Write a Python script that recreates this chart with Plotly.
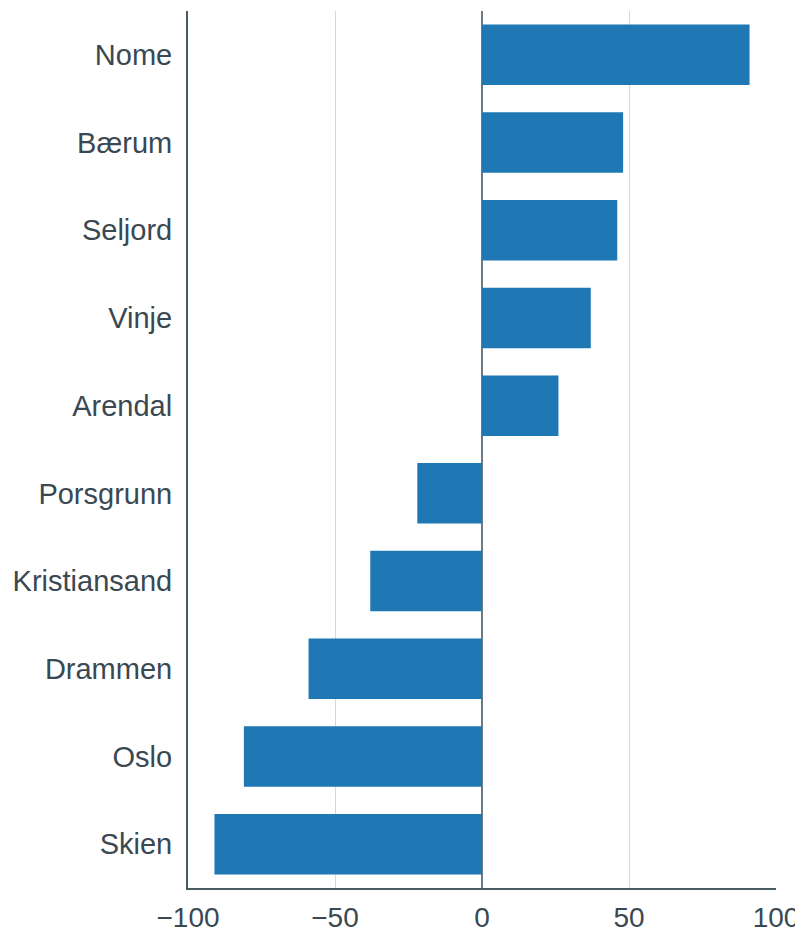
import plotly.graph_objects as go

# kommuner, from top to bottom as drawn
kommuner = ["Nome", "Bærum", "Seljord", "Vinje", "Arendal",
            "Porsgrunn", "Kristiansand", "Drammen", "Oslo", "Skien"]
verdier = [91, 48, 46, 37, 26, -22, -38, -59, -81, -91]

x_ticks = [-100, -50, 0, 50, 100]
x_labels = ["\u2212100", "\u221250", "0", "50", "100"]

fig = go.Figure(go.Bar(
    x=verdier,
    y=kommuner,
    orientation="h",
    marker_color="#1f77b4",
    marker_line_width=0,
))

# the page puts the figure 8px in from the corner
fig.update_layout(
    width=795,
    height=921,
    margin=dict(l=180, r=27, t=3, b=41),
    paper_bgcolor="white",
    plot_bgcolor="white",
    bargap=0.31,
    showlegend=False,
    font=dict(family="Liberation Sans, Arial", size=29, color="#3a4852"),
)

fig.update_xaxes(
    range=[-100, 100],
    tickvals=x_ticks,
    ticktext=x_labels,
    tickfont_size=28,
    showgrid=True,
    gridcolor="#d4d8db",
    gridwidth=1,
    zeroline=True,
    zerolinecolor="#6b7b84",
    zerolinewidth=1.5,
    showline=True,
    linecolor="#4a5a63",
    linewidth=2,
    ticklabelstandoff=3,
    automargin=False,
)

fig.update_yaxes(
    categoryorder="array",
    categoryarray=kommuner[::-1],
    showgrid=False,
    showline=True,
    linecolor="#4a5a63",
    linewidth=2,
    ticklabelstandoff=8,
    automargin=False,
)

fig.write_html("out.html")
